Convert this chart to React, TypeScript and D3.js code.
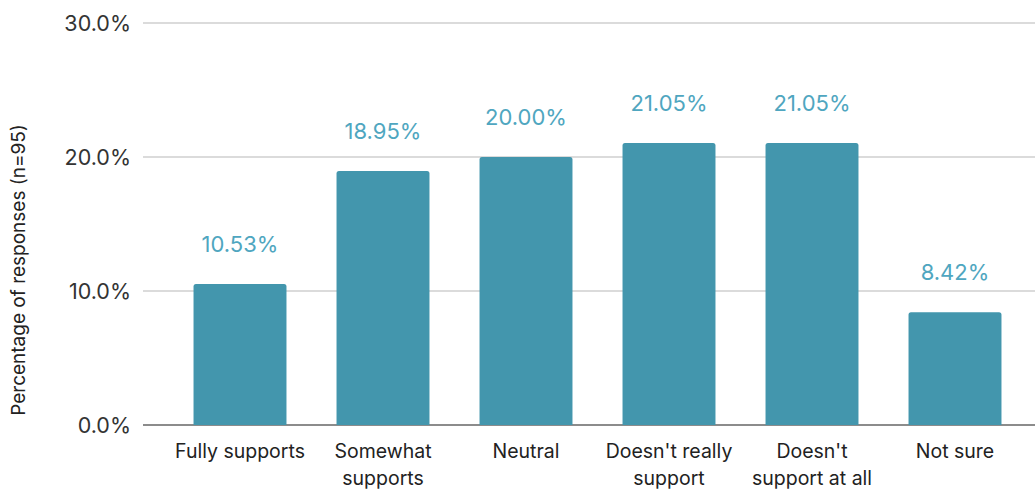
import React from "react";
import * as d3 from "d3";

const categories: string[][] = [
  ["Fully supports"],
  ["Somewhat", "supports"],
  ["Neutral"],
  ["Doesn't really", "support"],
  ["Doesn't", "support at all"],
  ["Not sure"],
];
const values: number[] = [10.53, 18.95, 20.0, 21.05, 21.05, 8.42];
const yTicks: number[] = [0, 10, 20, 30];

const W = 1035;
const H = 490;
const FONT = "Inter, 'Liberation Sans', Arial, sans-serif";

export default function App() {
  const keys = categories.map((c) => c.join(" "));
  const x = d3.scaleBand<string>().domain(keys).range([168.5, 1026.5]).paddingInner(0.35).paddingOuter(0.175);
  const y = d3.scaleLinear().domain([0, 30]).range([425, 23]);
  const bw = x.bandwidth();
  return (
    <svg width={W} height={H} style={{ position: "absolute", left: 0, top: 0, background: "#fff" }} fontFamily={FONT}>
      {yTicks.map((t) => (
        <g key={t}>
          <line x1={143} x2={W} y1={y(t)} y2={y(t)} stroke={t === 0 ? "#666" : "#cfcfcf"} strokeWidth={1.5} />
          <text x={131} y={y(t)} dy="0.35em" textAnchor="end" fontSize={21.5} fill="#333">
            {t.toFixed(1)}%
          </text>
        </g>
      ))}
      {values.map((v, i) => {
        const k = keys[i];
        const x0 = x(k)!;
        const top = y(v);
        const r = 2.5;
        const path = `M${x0},${y(0)} V${top + r} Q${x0},${top} ${x0 + r},${top} H${x0 + bw - r} Q${x0 + bw},${top} ${x0 + bw},${top + r} V${y(0)} Z`;
        return (
          <g key={k}>
            <path d={path} fill="#4396ad" />
            <text x={x0 + bw / 2} y={top - 32} textAnchor="middle" fontSize={22} fill="#4fa6c0">
              {v.toFixed(2)}%
            </text>
            {categories[i].map((line, j) => (
              <text key={j} x={x0 + bw / 2} y={451 + j * 27} dy="0.35em" textAnchor="middle" fontSize={19.5} fill="#222">
                {line}
              </text>
            ))}
          </g>
        );
      })}
      <text transform={`translate(18,270) rotate(-90)`} textAnchor="middle" dy="0.35em" fontSize={19} fill="#222">
        Percentage of responses (n=95)
      </text>
    </svg>
  );
}
